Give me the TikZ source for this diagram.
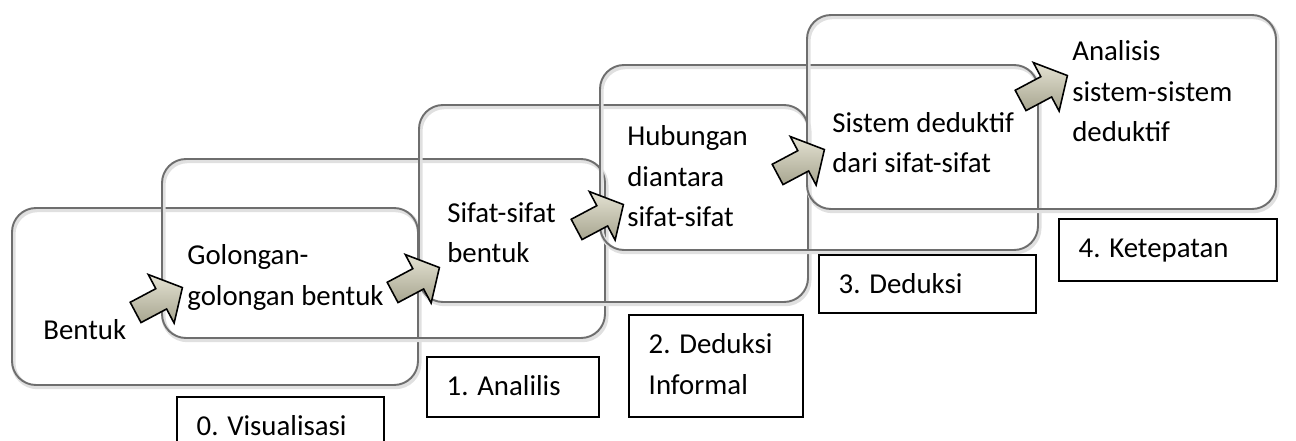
\documentclass[tikz,border=0pt]{standalone}
\usepackage{fontspec}
\setmainfont{Carlito}

\definecolor{stageline}{HTML}{6E6E6E}
\definecolor{arrowlight}{HTML}{E4E2D3}
\definecolor{arrowdark}{HTML}{A7A58F}

\tikzset{
  arrowbody/.style={draw=black, line width=0.9pt, line join=miter, top color=arrowlight, bottom color=arrowdark},
  stagearrow/.pic={
    \draw[arrowbody] (-26.5,-11.5) -- (2.5,-11.5) -- (2.5,-27.5) -- (26.5,0)
      -- (2.5,27.5) -- (2.5,11.5) -- (-26.5,11.5) -- cycle;
  }
}

\begin{document}
\begin{tikzpicture}[x=0.2mm, y=-0.2mm,
  stagebox/.style={draw=stageline, line width=1.1pt, rounded corners=4.8mm, inner sep=0pt,
    preaction={draw=black!12, line width=2.4pt, transform canvas={xshift=0.8pt, yshift=-1.2pt}}},
  stagetext/.style={anchor=base west, align=left, inner sep=0pt, font=\fontsize{16.4}{23.2}\selectfont},
  levelbox/.style={draw=black, line width=0.7pt, inner sep=0pt}]
  \useasboundingbox (0,0) rectangle (1296,441);
  % stage frames
  \foreach \name/\xa/\ya/\xb/\yb in {sa/12/208/418/385, sb/162/159/605/338, sc/419/105/808/302,
      sd/600/65/1038/250, sf/807/15/1276/209}
    \node[stagebox, minimum width={(\xb-\xa)*0.2mm}, minimum height={(\yb-\ya)*0.2mm}]
      (\name) at ({(\xa+\xb)/2},{(\ya+\yb)/2}) {};
  % stage texts (placed at the baseline of the last line)
  \node[stagetext] (t0) at (43,340) {Bentuk};
  \node[stagetext] (t1) at (187,305) {Golongan-\\golongan bentuk};
  \node[stagetext] (t2) at (447,263) {Sifat-sifat\\bentuk};
  \node[stagetext] (t3) at (627,227) {Hubungan\\diantara\\sifat-sifat};
  \node[stagetext] (t4) at (832,173) {Sistem deduktif\\dari sifat-sifat};
  \node[stagetext] (t5) at (1072,142) {Analisis\\sistem-sistem\\deduktif};
  % block arrows
  \foreach \name/\x/\y in {a1/159/300, a2/416/280, a3/600/217, a4/801/162, a5/1044/88}
    \pic[rotate=28] (\name) at (\x,\y) {stagearrow};
  % level boxes
  \foreach \name/\xa/\ya/\xb/\yb/\dy/\txt in {lv0/177/397/384/460/39/{0. Visualisasi},
      lv1/427/357/599/417/39/{1. Analilis}, lv2/629/315/803/417/80/{2. Deduksi\\Informal},
      lv3/819/255/1036/313/39/{3. Deduksi}, lv4/1059/219/1277/281/39/{4. Ketepatan}} {
    \node[levelbox, minimum width={(\xb-\xa)*0.2mm}, minimum height={(\yb-\ya)*0.2mm}]
      (\name) at ({(\xa+\xb)/2},{(\ya+\yb)/2}) {};
    \node[stagetext] (\name t) at ([shift={(20,\dy)}]\name.north west) {\txt};
  }
\end{tikzpicture}
\end{document}
